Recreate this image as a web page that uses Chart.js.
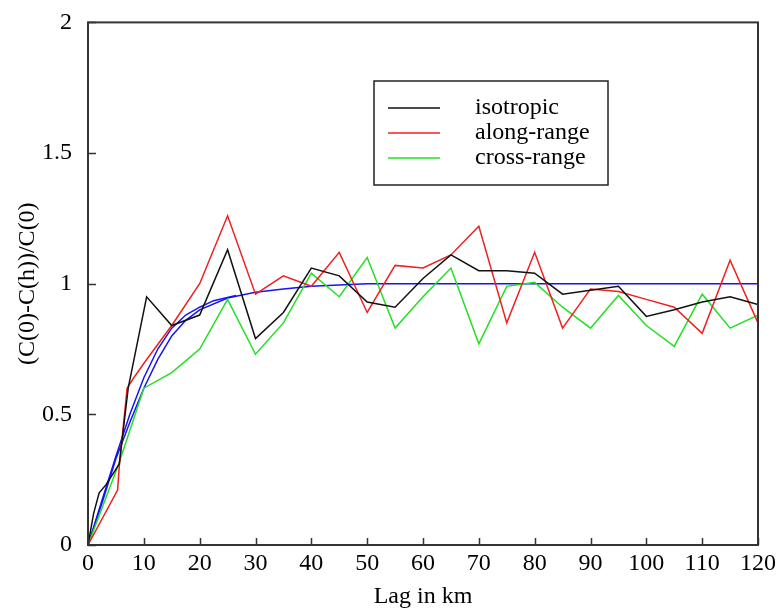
<!DOCTYPE html>
<html>
<head>
<meta charset="utf-8">
<script src="https://cdn.jsdelivr.net/npm/chart.js@4"></script>
<style>
  html, body { margin: 0; padding: 0; background: #fff; }
  #wrap { width: 778px; height: 611px; }
</style>
</head>
<body>
<div id="wrap"><canvas id="variogramChart"></canvas></div>
<script>
Chart.defaults.font.family = "'Liberation Serif', 'DejaVu Serif', serif";
Chart.defaults.font.size = 24;
Chart.defaults.color = "#000";

// lag (km) and normalised values
const isoLag = [0, 1, 2, 3.2, 4.7, 5.6, 7.2, 10.5, 15, 20, 25, 30, 35, 40, 45, 50, 55, 60, 65, 70, 75, 80, 85, 90, 95, 100, 105, 110, 115, 120];
const isoVal = [0, 0.12, 0.2, 0.23, 0.28, 0.31, 0.6, 0.95, 0.84, 0.88, 1.13, 0.79, 0.89, 1.06, 1.03, 0.93, 0.91, 1.02, 1.11, 1.05, 1.05, 1.04, 0.96, 0.975, 0.99, 0.875, 0.9, 0.93, 0.95, 0.92];

const alongLag = [0, 5.3, 5.6, 7, 8.2, 10.5, 15, 20, 25, 30, 35, 40, 45, 50, 55, 60, 65, 70, 75, 80, 85, 90, 95, 100, 105, 110, 115, 120];
const alongVal = [0, 0.21, 0.3, 0.6, 0.64, 0.71, 0.84, 1.0, 1.26, 0.96, 1.03, 0.99, 1.12, 0.89, 1.07, 1.06, 1.11, 1.22, 0.85, 1.12, 0.83, 0.98, 0.97, 0.94, 0.91, 0.81, 1.09, 0.85];

const crossLag = [0, 5.5, 10, 15, 20, 25, 30, 35, 40, 45, 50, 55, 60, 65, 70, 75, 80, 85, 90, 95, 100, 105, 110, 115, 120];
const crossVal = [0, 0.31, 0.6, 0.66, 0.75, 0.94, 0.73, 0.85, 1.04, 0.95, 1.1, 0.83, 0.95, 1.06, 0.77, 0.99, 1.005, 0.91, 0.83, 0.955, 0.84, 0.76, 0.96, 0.83, 0.88];

// fitted model curves (blue)
const fitShortLag = [0, 2.5, 5, 7.5, 10, 12.5, 15, 17.5, 20, 22.5, 26.5];
const fitShortVal = [0, 0.17, 0.34, 0.5, 0.64, 0.75, 0.83, 0.88, 0.91, 0.935, 0.955];
const fitLongLag = [0, 2.5, 5, 7.5, 10, 12.5, 15, 17.5, 20, 25, 30, 35, 40, 45, 50, 60, 70, 80, 90, 100, 110, 120];
const fitLongVal = [0, 0.16, 0.33, 0.47, 0.6, 0.71, 0.8, 0.86, 0.9, 0.945, 0.967, 0.98, 0.99, 0.995, 1.0, 1.0, 1.0, 1.0, 1.0, 1.0, 1.0, 1.0];

const xTicks = [0, 10, 20, 30, 40, 50, 60, 70, 80, 90, 100, 110, 120];
const yTicks = [0, 0.5, 1, 1.5, 2];

function pts(xs, ys) {
  return xs.map((x, i) => ({ x: x, y: ys[i] }));
}

const data = {
  datasets: [
    { label: "isotropic", data: pts(isoLag, isoVal), borderColor: "#111111" },
    { label: "along-range", data: pts(alongLag, alongVal), borderColor: "#f02020" },
    { label: "cross-range", data: pts(crossLag, crossVal), borderColor: "#22e022" },
    { label: "fit", data: pts(fitShortLag, fitShortVal), borderColor: "#1515f0" },
    { label: "fit2", data: pts(fitLongLag, fitLongVal), borderColor: "#1515f0" },
  ],
};

// frame, inward ticks and the boxed legend
const framePlugin = {
  id: "frame",
  afterDraw(chart) {
    const ctx = chart.ctx;
    const a = chart.chartArea;
    const xs = chart.scales.x;
    const ys = chart.scales.y;
    ctx.save();
    ctx.strokeStyle = "#333";
    ctx.lineWidth = 2;
    ctx.strokeRect(a.left, a.top, a.right - a.left, a.bottom - a.top);
    ctx.lineWidth = 1.5;
    ctx.beginPath();
    xTicks.forEach(v => {
      const px = Math.round(xs.getPixelForValue(v)) + 0.5;
      ctx.moveTo(px, a.bottom);
      ctx.lineTo(px, a.bottom - 7);
    });
    yTicks.forEach(v => {
      const py = Math.round(ys.getPixelForValue(v)) + 0.5;
      ctx.moveTo(a.left, py);
      ctx.lineTo(a.left + 8, py);
    });
    ctx.stroke();

    // legend box
    const bx = 374, by = 81, bw = 234, bh = 104;
    ctx.fillStyle = "#fff";
    ctx.fillRect(bx, by, bw, bh);
    ctx.strokeStyle = "#222";
    ctx.lineWidth = 1.5;
    ctx.strokeRect(bx, by, bw, bh);
    ctx.font = "24px 'Liberation Serif', serif";
    ctx.textBaseline = "middle";
    ctx.textAlign = "left";
    chart.data.datasets.slice(0, 3).forEach((ds, i) => {
      const ry = by + 27 + i * 25;
      ctx.strokeStyle = ds.borderColor;
      ctx.lineWidth = 1.5;
      ctx.beginPath();
      ctx.moveTo(bx + 14, ry);
      ctx.lineTo(bx + 66, ry);
      ctx.stroke();
      ctx.fillStyle = "#000";
      ctx.fillText(ds.label, bx + 101, ry);
    });
    ctx.restore();
  },
};

const config = {
  type: "line",
  data: data,
  options: {
    responsive: true,
    maintainAspectRatio: false,
    animation: false,
    layout: { padding: { top: 19, right: 20, left: 0, bottom: 0 } },
    elements: {
      line: { borderWidth: 1.5, tension: 0, fill: false },
      point: { radius: 0 },
    },
    plugins: {
      legend: { display: false },
      tooltip: { enabled: false },
    },
    scales: {
      x: {
        type: "linear",
        min: 0,
        max: 120,
        afterBuildTicks: s => { s.ticks = xTicks.map(v => ({ value: v })); },
        afterFit: s => { s.height = 66; },
        grid: { display: false },
        border: { display: false },
        ticks: { padding: -4, maxRotation: 0, autoSkip: false, callback: v => String(v) },
        title: { display: true, text: "Lag in km", padding: 0, font: { size: 24 } },
      },
      y: {
        type: "linear",
        min: 0,
        max: 2,
        afterBuildTicks: s => { s.ticks = yTicks.map(v => ({ value: v })); },
        afterFit: s => { s.width = 88; },
        grid: { display: false },
        border: { display: false },
        ticks: { padding: 8, callback: v => String(v) },
        title: { display: true, text: "(C(0)-C(h))/C(0)", padding: { top: 13, bottom: 0 }, font: { size: 24 } },
      },
    },
  },
  plugins: [framePlugin],
};

let ctx = document.getElementById("variogramChart");
let variogramChart = new Chart(ctx, config);
</script>
</body>
</html>
